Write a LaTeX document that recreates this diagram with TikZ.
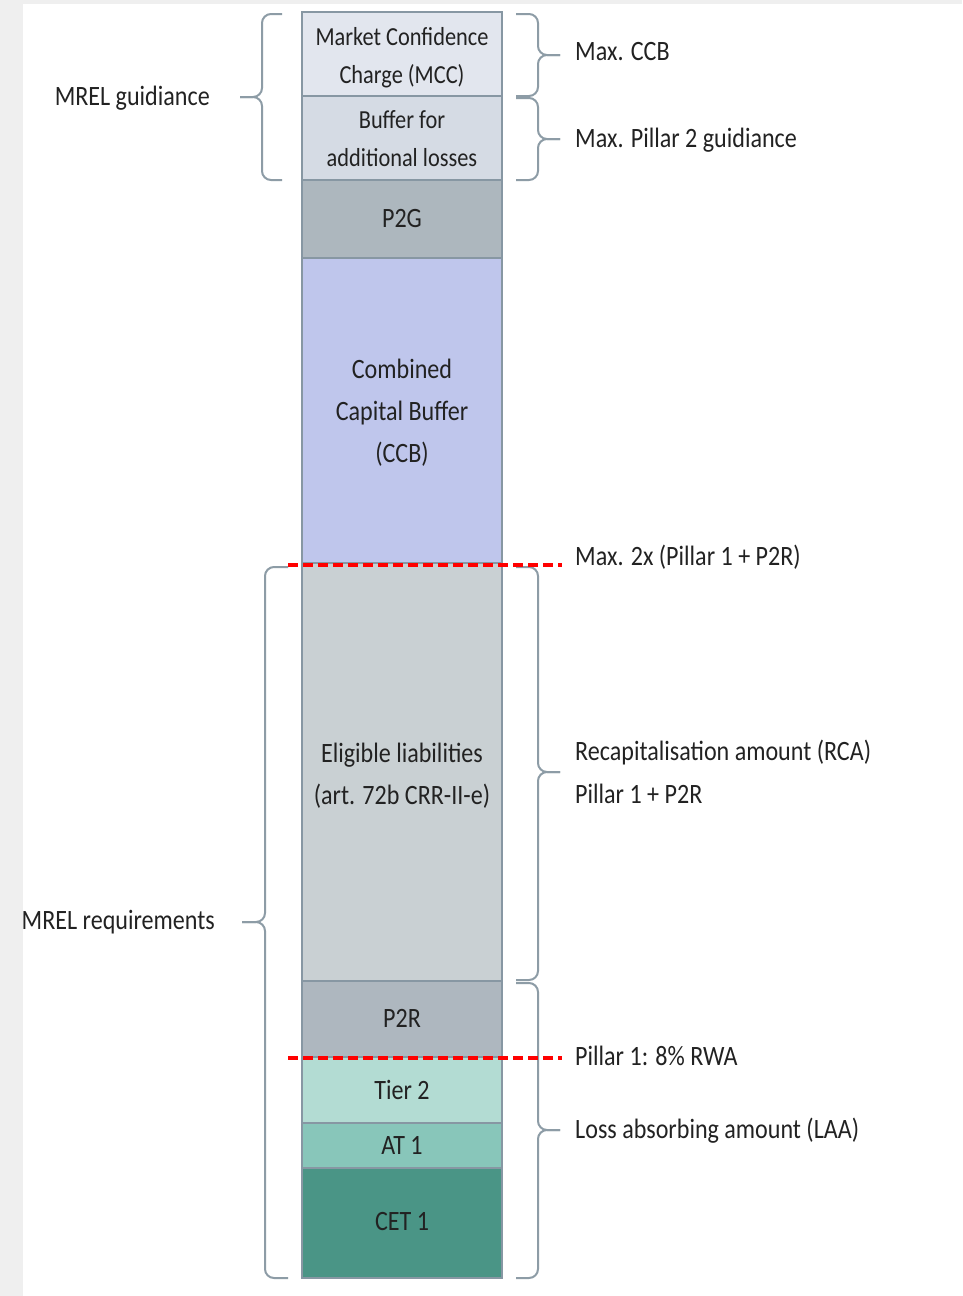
\documentclass[tikz,border=0pt]{standalone}
\usepackage{fontspec}
\setmainfont{Carlito}
\usepackage{graphicx}
\newcommand{\sq}[1]{\scalebox{0.86}[1]{\begin{tabular}{@{}c@{}}#1\end{tabular}}}
\newcommand{\sql}[1]{\scalebox{0.86}[1]{\begin{tabular}{@{}l@{}}#1\end{tabular}}}
\definecolor{mccfill}{HTML}{E2E6EE}
\definecolor{buffill}{HTML}{D5DBE4}
\definecolor{p2gfill}{HTML}{ADB7BE}
\definecolor{ccbfill}{HTML}{BFC6EC}
\definecolor{eligfill}{HTML}{C9D0D3}
\definecolor{p2rfill}{HTML}{AEB7BF}
\definecolor{tiertwo}{HTML}{B3DCD3}
\definecolor{atone}{HTML}{88C6BA}
\definecolor{cetone}{HTML}{4A9586}
\definecolor{boxline}{HTML}{8797A3}
\definecolor{braceline}{HTML}{8D9CA6}
\definecolor{txt}{HTML}{222222}
\definecolor{stripgray}{HTML}{EFEFEF}
\begin{document}
\begin{tikzpicture}[x=1pt,y=-1pt,
  blk/.style={draw=boxline,line width=2pt},
  boxtxt/.style={inner sep=0pt,text=txt,font=\fontsize{28}{42}\selectfont},
  smalltxt/.style={inner sep=0pt,text=txt,font=\fontsize{26}{38}\selectfont},
  lbl/.style={inner sep=0pt,text=txt,anchor=west,font=\fontsize{28}{43}\selectfont},
  lblr/.style={inner sep=0pt,text=txt,anchor=east,font=\fontsize{28}{43}\selectfont},
  bracestyle/.style={draw=braceline,line width=2pt,rounded corners=9pt},
  reddash/.style={draw=red,line width=3.5pt,dash pattern=on 10pt off 5pt}]
\useasboundingbox (0,0) rectangle (962,1296);
\fill[white] (0,0) rectangle (962,1296);

% column blocks
\path[blk,fill=mccfill] (302,12) rectangle (502,96);
\path[blk,fill=buffill] (302,96) rectangle (502,180);
\path[blk,fill=p2gfill] (302,180) rectangle (502,258);
\path[blk,fill=ccbfill] (302,258) rectangle (502,563);
\path[blk,fill=eligfill] (302,563) rectangle (502,981);
\path[blk,fill=p2rfill] (302,981) rectangle (502,1057);
\path[blk,fill=tiertwo] (302,1057) rectangle (502,1123);
\path[blk,fill=atone] (302,1123) rectangle (502,1168);
\path[blk,fill=cetone] (302,1168) rectangle (502,1278);

\node[smalltxt] (mcc) at (402,57) {\sq{Market Confidence\\Charge (MCC)}};
\node[smalltxt] (buf) at (402,140) {\sq{Buffer for\\additional losses}};
\node[boxtxt] (p2g) at (402,219) {\sq{P2G}};
\node[boxtxt] (ccb) at (402,412) {\sq{Combined\\Capital Buffer\\(CCB)}};
\node[boxtxt] (elig) at (402,775) {\sq{Eligible liabilities\\(art. 72b CRR-II-e)}};
\node[boxtxt] (p2r) at (402,1019) {\sq{P2R}};
\node[boxtxt] (t2) at (402,1091) {\sq{Tier 2}};
\node[boxtxt] (at1) at (402,1146) {\sq{AT 1}};
\node[boxtxt] (cet1) at (402,1222) {\sq{CET 1}};

% braces
\coordinate (gL) at (240,97);
\draw[bracestyle] (282,14) -- (262,14) -- (262,97) -- (gL);
\draw[bracestyle] (gL) -- (262,97) -- (262,180) -- (282,180);
\coordinate (rL) at (242,922);
\draw[bracestyle] (288,567) -- (265,567) -- (265,922) -- (rL);
\draw[bracestyle] (rL) -- (265,922) -- (265,1278) -- (288,1278);

\coordinate (b1) at (560,55);
\draw[bracestyle] (516,14) -- (538,14) -- (538,55) -- (b1);
\draw[bracestyle] (b1) -- (538,55) -- (538,96) -- (516,96);
\coordinate (b2) at (560,139);
\draw[bracestyle] (516,98) -- (538,98) -- (538,139) -- (b2);
\draw[bracestyle] (b2) -- (538,139) -- (538,180) -- (516,180);
\coordinate (b3) at (560,772);
\draw[bracestyle] (516,567) -- (538,567) -- (538,772) -- (b3);
\draw[bracestyle] (b3) -- (538,772) -- (538,980) -- (516,980);
\coordinate (b4) at (560,1130);
\draw[bracestyle] (516,983) -- (538,983) -- (538,1130) -- (b4);
\draw[bracestyle] (b4) -- (538,1130) -- (538,1278) -- (516,1278);

% red dashed lines
\coordinate (d1a) at (288,565);
\coordinate (d1b) at (562,565);
\draw[reddash] (d1a) -- (d1b);
\coordinate (d2a) at (288,1058);
\coordinate (d2b) at (562,1058);
\draw[reddash] (d2a) -- (d2b);

% labels
\node[lblr] (lg) at (210,97) {\sq{MREL guidiance}};
\node[lblr] (lr) at (215,921) {\sq{MREL requirements}};
\node[lbl] (l1) at (575,52) {\sq{Max. CCB}};
\node[lbl] (l2) at (575,139) {\sq{Max. Pillar 2 guidiance}};
\node[lbl] (l3) at (575,557) {\sq{Max. 2x (Pillar 1 + P2R)}};
\node[lbl] (l4) at (575,773) {\sql{Recapitalisation amount (RCA)\\Pillar 1 + P2R}};
\node[lbl] (l5) at (575,1057) {\sq{Pillar 1: 8\% RWA}};
\node[lbl] (l6) at (575,1130) {\sq{Loss absorbing amount (LAA)}};

% side strips of the screenshot
\fill[stripgray] (0,0) rectangle (23,1296);
\fill[stripgray] (0,0) rectangle (962,4);
\end{tikzpicture}
\end{document}
